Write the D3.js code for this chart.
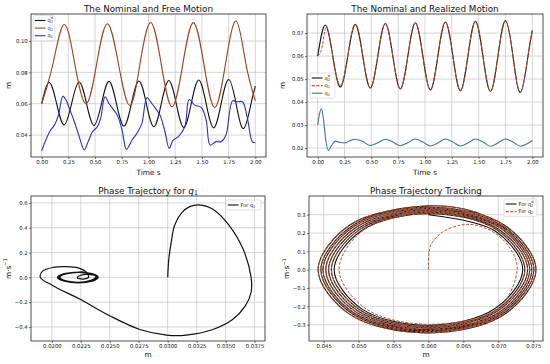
<!DOCTYPE html>
<html>
<head>
<meta charset="utf-8">
<script src="https://cdn.jsdelivr.net/npm/d3@7"></script>
<style>
body { margin: 0; background: #fff; }
svg { display: block; }
text { font-family: "DejaVu Sans", sans-serif; fill: #111; }
</style>
</head>
<body>
<script>
// ---- data ----
// nominal motion q2^d: key points (extremes and mean crossings)
var nomT = [0, 0.07, 0.14, 0.21, 0.28, 0.35, 0.42, 0.49, 0.56, 0.63, 0.70, 0.77, 0.84, 0.91, 0.98,
            1.05, 1.12, 1.19, 1.26, 1.33, 1.40, 1.47, 1.54, 1.61, 1.68, 1.75, 1.82, 1.89, 1.96, 2.00];
var nomQ = [0.0600, 0.0735, 0.0600, 0.0465, 0.0600, 0.0738, 0.0600, 0.0461, 0.0600, 0.0742, 0.0600, 0.0457, 0.0600, 0.0745, 0.0600,
            0.0453, 0.0600, 0.0748, 0.0600, 0.0449, 0.0600, 0.0751, 0.0600, 0.0446, 0.0600, 0.0754, 0.0600, 0.0442, 0.0600, 0.0712];

// nominal in the phase plane, 8 points per loop (position, velocity)
var phX = [0.0600, 0.0695, 0.0735, 0.0695, 0.0600, 0.0505, 0.0465, 0.0505,
           0.0600, 0.0698, 0.0738, 0.0698, 0.0600, 0.0502, 0.0461, 0.0502,
           0.0600, 0.0700, 0.0742, 0.0700, 0.0600, 0.0499, 0.0457, 0.0499,
           0.0600, 0.0703, 0.0745, 0.0703, 0.0600, 0.0496, 0.0453, 0.0496,
           0.0600, 0.0705, 0.0748, 0.0705, 0.0600, 0.0493, 0.0449, 0.0493,
           0.0600, 0.0707, 0.0751, 0.0707, 0.0600, 0.0491, 0.0446, 0.0491,
           0.0600, 0.0709, 0.0754, 0.0709, 0.0600, 0.0488, 0.0442, 0.0488,
           0.0600, 0.0669, 0.0712];
var phV = [0.300, 0.212, 0, -0.213, -0.303, -0.215, 0, 0.215,
           0.306, 0.217, 0, -0.218, -0.310, -0.220, 0, 0.220,
           0.313, 0.222, 0, -0.223, -0.317, -0.225, 0, 0.225,
           0.320, 0.227, 0, -0.228, -0.324, -0.230, 0, 0.230,
           0.327, 0.232, 0, -0.233, -0.331, -0.235, 0, 0.235,
           0.334, 0.237, 0, -0.238, -0.338, -0.240, 0, 0.240,
           0.341, 0.242, 0, -0.243, -0.345, -0.245, 0, 0.245,
           0.348, 0.312, 0.220];

// free motion of q2 (brown) and q1 (blue)
var freeT2 = [0, 0.105, 0.21, 0.31, 0.415, 0.515, 0.615, 0.72, 0.825, 0.92, 1.02, 1.12, 1.22, 1.32, 1.42, 1.52, 1.62, 1.72, 1.82, 1.91, 2.00];
var freeQ2 = [0.0600, 0.0853, 0.1105, 0.0853, 0.0600, 0.0855, 0.1110, 0.0850, 0.0588, 0.0852, 0.1118, 0.0850, 0.0580, 0.0848, 0.1117, 0.0846, 0.0575, 0.0850, 0.1127, 0.0860, 0.0618];
var freeT1 = [0, 0.074, 0.120, 0.157, 0.198, 0.228, 0.259, 0.306, 0.352, 0.398, 0.435, 0.475, 0.522, 0.552, 0.593,
              0.630, 0.676, 0.707, 0.753, 0.793, 0.846, 0.892, 0.938, 0.985, 1.031, 1.077, 1.108, 1.154, 1.194,
              1.231, 1.278, 1.340, 1.380, 1.432, 1.494, 1.540, 1.577, 1.633, 1.679, 1.725, 1.787, 1.833, 1.880, 1.926, 1.972, 2.000];
var freeQ1 = [0.0300, 0.0421, 0.0464, 0.0527, 0.0648, 0.0623, 0.0570, 0.0485, 0.0389, 0.0305, 0.0358, 0.0421, 0.0453, 0.0506, 0.0644,
              0.0601, 0.0559, 0.0527, 0.0432, 0.0309, 0.0368, 0.0411, 0.0474, 0.0638, 0.0601, 0.0559, 0.0527, 0.0421, 0.0315,
              0.0368, 0.0389, 0.0453, 0.0627, 0.0591, 0.0576, 0.0495, 0.0336, 0.0358, 0.0358, 0.0400, 0.0618, 0.0612, 0.0612, 0.0506, 0.0358, 0.0351];

// realized (tracked) q2: start transient, then on the nominal
var trkT = [0, 0.025, 0.05, 0.085, 0.14, 0.21].concat(nomT.slice(4));
var trkQ = [0.0600, 0.0615, 0.0665, 0.0727, 0.0600, 0.0472].concat(nomQ.slice(4));
var trkPX = [0.0600, 0.0603, 0.0620, 0.0645, 0.0665, 0.0695, 0.0718, 0.0727, 0.0700, 0.0600, 0.0510, 0.0472, 0.0507].concat(phX.slice(8));
var trkPV = [0.000, 0.130, 0.205, 0.242, 0.245, 0.200, 0.110, 0.000, -0.210, -0.298, -0.212, 0.000, 0.216].concat(phV.slice(8));

// realized q1 (teal)
var tealT = [0, 0.015, 0.035, 0.055, 0.075, 0.10, 0.13, 0.165, 0.21, 0.25, 0.30, 0.35, 0.42, 0.49, 0.56, 0.63, 0.70, 0.77,
             0.84, 0.91, 0.98, 1.05, 1.12, 1.19, 1.26, 1.33, 1.40, 1.47, 1.54, 1.61, 1.68, 1.75, 1.82, 1.89, 1.96, 2.00];
var tealQ = [0.0300, 0.0345, 0.0372, 0.0320, 0.0235, 0.0190, 0.0212, 0.0230, 0.0224, 0.0222, 0.0232, 0.0238, 0.0228, 0.0211, 0.0223, 0.0238, 0.0226, 0.0210,
             0.0223, 0.0239, 0.0226, 0.0209, 0.0222, 0.0239, 0.0226, 0.0209, 0.0222, 0.0239, 0.0226, 0.0208, 0.0222, 0.0239, 0.0226, 0.0208, 0.0221, 0.0233];

// phase of q1: start transient and settled loops
var p1X = [0.0300, 0.0301, 0.0303, 0.0306, 0.0312, 0.0319, 0.0327, 0.0339, 0.0353, 0.0365, 0.0372, 0.0372, 0.0367, 0.0356,
           0.0339, 0.0316, 0.0299, 0.0276, 0.0250, 0.0224, 0.0201, 0.0190, 0.0192, 0.0201, 0.0212, 0.0224, 0.0230, 0.0232];
var p1V = [0.000, 0.150, 0.280, 0.420, 0.520, 0.570, 0.585, 0.550, 0.420, 0.230, 0.000, -0.120, -0.230, -0.340,
           -0.420, -0.465, -0.465, -0.420, -0.310, -0.175, -0.067, 0.000, 0.050, 0.080, 0.086, 0.073, 0.040, 0.000];
var ringX = [0.0232, 0.0227, 0.0222, 0.0230, 0.0238, 0.0223, 0.0207, 0.0223, 0.0239, 0.0223, 0.0206, 0.0223, 0.0240, 0.0223, 0.0206,
             0.0223, 0.0240, 0.0223, 0.0205, 0.0223, 0.0240, 0.0223, 0.0205, 0.0223, 0.0240, 0.0223, 0.0205, 0.0223, 0.0231];
var ringV = [0, -0.014, 0, 0.024, 0, -0.040, 0, 0.040, 0, -0.042, 0, 0.041, 0, -0.043, 0,
             0.042, 0, -0.043, 0, 0.042, 0, -0.044, 0, 0.043, 0, -0.044, 0, 0.043, 0.032];

var timeTicks = [0, 0.25, 0.5, 0.75, 1, 1.25, 1.5, 1.75, 2];

var W = 550, H = 364;
var svg = d3.select("body").append("svg").attr("width", W).attr("height", H);
var clipId = 0;

function pairs(a, b) { return a.map(function (d, i) { return [d, b[i]]; }); }

// q with subscript and optional superscript, as matplotlib mathtext draws it
function mathQ(sel, sub, sup, italic) {
    sel.append("tspan").text("q").style("font-style", italic ? "italic" : null);
    sel.append("tspan").text(sub).attr("font-size", "70%").attr("dy", "0.3em");
    if (sup) {
        sel.append("tspan").text(sup).attr("font-size", "70%").attr("dx", "-0.62em").attr("dy", "-1.05em");
    }
}

function makePanel(p) {
    var x = d3.scaleLinear().domain(p.xDom).range([p.l, p.r]);
    var y = d3.scaleLinear().domain(p.yDom).range([p.b, p.t]);
    var g = svg.append("g");

    // grid
    g.append("g").selectAll("line").data(p.xTicks).join("line")
        .attr("x1", function (d) { return x(d); }).attr("x2", function (d) { return x(d); })
        .attr("y1", p.t).attr("y2", p.b)
        .attr("stroke", "#c4c4c4").attr("stroke-width", 0.7);
    g.append("g").selectAll("line").data(p.yTicks).join("line")
        .attr("y1", function (d) { return y(d); }).attr("y2", function (d) { return y(d); })
        .attr("x1", p.l).attr("x2", p.r)
        .attr("stroke", "#c4c4c4").attr("stroke-width", 0.7);

    // data area
    var id = "clip" + (clipId++);
    svg.append("clipPath").attr("id", id).append("rect")
        .attr("x", p.l).attr("y", p.t).attr("width", p.r - p.l).attr("height", p.b - p.t);
    var plot = g.append("g").attr("clip-path", "url(#" + id + ")");

    // axes
    var xa = g.append("g").attr("transform", "translate(0," + p.b + ")")
        .call(d3.axisBottom(x).tickValues(p.xTicks).tickFormat(p.xFmt).tickSize(2).tickPadding(1.3));
    var ya = g.append("g").attr("transform", "translate(" + p.l + ",0)")
        .call(d3.axisLeft(y).tickValues(p.yTicks).tickFormat(p.yFmt).tickSize(2).tickPadding(1.3));
    [xa, ya].forEach(function (a) {
        a.select(".domain").remove();
        a.selectAll(".tick line").attr("stroke", "#222").attr("stroke-width", 0.6);
        a.selectAll(".tick text").attr("font-size", "5.3px").attr("font-family", "DejaVu Sans").attr("fill", "#111");
    });

    // frame
    g.append("rect").attr("x", p.l).attr("y", p.t).attr("width", p.r - p.l).attr("height", p.b - p.t)
        .attr("fill", "none").attr("stroke", "#222").attr("stroke-width", 0.8);

    // title + labels
    var t = g.append("text").attr("x", (p.l + p.r) / 2).attr("y", p.titleY)
        .attr("text-anchor", "middle").attr("font-size", "8.8px");
    p.title(t);
    var xl = g.append("text").attr("x", (p.l + p.r) / 2).attr("y", p.xLabY)
        .attr("text-anchor", "middle").attr("font-size", "7.3px");
    p.xLab(xl);
    var yl = g.append("text").attr("transform", "translate(" + p.yLabX + "," + ((p.t + p.b) / 2) + ") rotate(-90)")
        .attr("text-anchor", "middle").attr("font-size", "7.3px");
    p.yLab(yl);

    return { x: x, y: y, plot: plot, g: g };
}

function addLine(P, pts, color, curve, width, dash) {
    var line = d3.line().x(function (d) { return P.x(d[0]); }).y(function (d) { return P.y(d[1]); }).curve(curve);
    P.plot.append("path").datum(pts).attr("d", line)
        .attr("fill", "none").attr("stroke", color).attr("stroke-width", width)
        .attr("stroke-dasharray", dash || null).attr("stroke-linejoin", "round");
}

function addLegend(P, x0, y0, w, rows) {
    var h = rows.length * 7.6 + 2.4;
    P.g.append("rect").attr("x", x0).attr("y", y0).attr("width", w).attr("height", h).attr("rx", 1.5)
        .attr("fill", "#fff").attr("fill-opacity", 0.85).attr("stroke", "#cfcfcf").attr("stroke-width", 0.6);
    rows.forEach(function (r, i) {
        var yy = y0 + 5 + i * 7.6;
        P.g.append("line").attr("x1", x0 + 1.8).attr("x2", x0 + 12.5).attr("y1", yy).attr("y2", yy)
            .attr("stroke", r.color).attr("stroke-width", 1.1).attr("stroke-dasharray", r.dash || null);
        var t = P.g.append("text").attr("x", x0 + 14.5).attr("y", yy + 1.6).attr("font-size", "5px");
        r.label(t);
    });
}

var fmt2 = d3.format(".2f"), fmt1 = d3.format(".1f");
var smooth = d3.curveNatural, mono = d3.curveMonotoneX, cr = d3.curveCatmullRom.alpha(0.5);
var cBrown = "#9a4220", cBlue = "#2a2ad4", cRed = "#c4502c", cTeal = "#3a7896", cBlack = "#111";

// ---- top left: free motion ----
var A = makePanel({
    l: 31, r: 266, t: 14, b: 157,
    xDom: [-0.1, 2.1], yDom: [0.026, 0.1172],
    xTicks: timeTicks, yTicks: [0.04, 0.06, 0.08, 0.10], xFmt: fmt2, yFmt: fmt2,
    titleY: 12.3, xLabY: 175, yLabX: 10.5,
    title: function (t) { t.text("The Nominal and Free Motion"); },
    xLab: function (t) { t.text("Time s"); },
    yLab: function (t) { t.text("m"); }
});
addLine(A, pairs(nomT, nomQ), cBlack, smooth, 1.1);
addLine(A, pairs(freeT2, freeQ2), cBrown, smooth, 1.1);
addLine(A, pairs(freeT1, freeQ1), cBlue, cr, 1.1);
addLegend(A, 33, 15.5, 22, [
    { color: cBlack, label: function (t) { mathQ(t, "2", "d"); } },
    { color: cBrown, label: function (t) { mathQ(t, "2"); } },
    { color: cBlue, label: function (t) { mathQ(t, "1"); } }
]);

// ---- top right: realized motion ----
var B = makePanel({
    l: 307, r: 543, t: 14, b: 157,
    xDom: [-0.1, 2.1], yDom: [0.0161, 0.0783],
    xTicks: timeTicks, yTicks: [0.02, 0.03, 0.04, 0.05, 0.06, 0.07], xFmt: fmt2, yFmt: fmt2,
    titleY: 12.3, xLabY: 175, yLabX: 285,
    title: function (t) { t.text("The Nominal and Realized Motion"); },
    xLab: function (t) { t.text("Time s"); },
    yLab: function (t) { t.text("m"); }
});
addLine(B, pairs(nomT, nomQ), cBlack, smooth, 1.1);
addLine(B, pairs(trkT, trkQ), cRed, smooth, 1.0, "3,1.5");
addLine(B, pairs(tealT, tealQ), cTeal, mono, 1.1);
addLegend(B, 310, 73, 25, [
    { color: cBlack, label: function (t) { mathQ(t, "2", "d"); } },
    { color: cRed, dash: "3,1.5", label: function (t) { mathQ(t, "2"); } },
    { color: cTeal, label: function (t) { mathQ(t, "1"); } }
]);

// ---- bottom left: phase of q1 ----
var C = makePanel({
    l: 31, r: 265, t: 196, b: 341,
    xDom: [0.0182, 0.0384], yDom: [-0.513, 0.656],
    xTicks: [0.02, 0.0225, 0.025, 0.0275, 0.03, 0.0325, 0.035, 0.0375], yTicks: [-0.4, -0.2, 0, 0.2, 0.4, 0.6],
    xFmt: d3.format(".4f"), yFmt: fmt1,
    titleY: 193.5, xLabY: 357, yLabX: 10.5,
    title: function (t) { t.append("tspan").text("Phase Trajectory for "); mathQ(t, "1", null, true); },
    xLab: function (t) { t.text("m"); },
    yLab: function (t) { t.append("tspan").text("m\u00b7s"); t.append("tspan").text("\u22121").attr("font-size", "70%").attr("dy", "-0.6em"); }
});
addLine(C, pairs(p1X, p1V), cBlack, cr, 1.2);
addLine(C, pairs(ringX, ringV), cBlack, smooth, 1.2);
addLegend(C, 226, 200, 35, [
    { color: cBlack, label: function (t) { t.append("tspan").text("For "); mathQ(t, "1"); } }
]);

// ---- bottom right: phase tracking ----
var D = makePanel({
    l: 309, r: 543, t: 196, b: 341,
    xDom: [0.0429, 0.0764], yDom: [-0.389, 0.402],
    xTicks: [0.045, 0.05, 0.055, 0.06, 0.065, 0.07, 0.075], yTicks: [-0.3, -0.2, -0.1, 0, 0.1, 0.2, 0.3],
    xFmt: d3.format(".3f"), yFmt: fmt1,
    titleY: 193.5, xLabY: 357, yLabX: 289,
    title: function (t) { t.text("Phase Trajectory Tracking"); },
    xLab: function (t) { t.text("m"); },
    yLab: function (t) { t.append("tspan").text("m\u00b7s"); t.append("tspan").text("\u22121").attr("font-size", "70%").attr("dy", "-0.6em"); }
});
addLine(D, pairs(phX, phV), cBlack, cr, 1.1);
addLine(D, pairs(trkPX, trkPV), cRed, cr, 1.0, "3,1.5");
addLegend(D, 504, 199, 33, [
    { color: cBlack, label: function (t) { t.append("tspan").text("For "); mathQ(t, "2", "d"); } },
    { color: cRed, dash: "3,1.5", label: function (t) { t.append("tspan").text("For "); mathQ(t, "2"); } }
]);
</script>
</body>
</html>
